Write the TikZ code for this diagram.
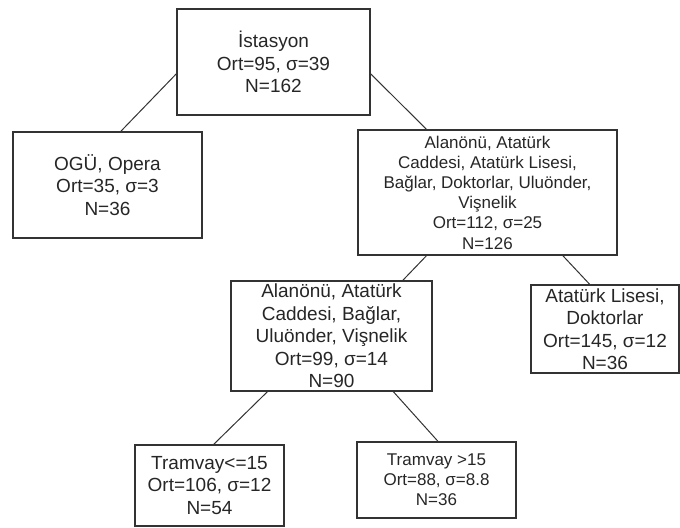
\documentclass[tikz,border=0pt]{standalone}
\usepackage{fontspec}
\setmainfont{Liberation Sans}
\begin{document}
\begin{tikzpicture}[x=0.5pt,y=-0.5pt,
	box/.style={draw=black!80,line width=0.8pt,align=center,inner sep=0pt,text=black!85,font=\fontsize{9.5}{11.25}\selectfont},
	small/.style={font=\fontsize{8.5}{10.1}\selectfont},
	edge/.style={draw=black!80,line width=0.5pt}]
	\useasboundingbox (0,0) rectangle (680,527);
	\node[box,minimum width=96.5pt,minimum height=53pt] (istasyon) at (273.5,62) {İstasyon\\Ort=95, σ=39\\N=162};
	\node[box,minimum width=94.5pt,minimum height=53pt] (ogu) at (107.5,185) {OGÜ, Opera\\Ort=35, σ=3\\N=36};
	\node[box,small,minimum width=129.5pt,minimum height=62.5pt] (sag) at (487.5,192.5) {Alanönü, Atatürk\\Caddesi, Atatürk Lisesi,\\Bağlar, Doktorlar, Uluönder,\\Vişnelik\\Ort=112, σ=25\\N=126};
	\node[box,minimum width=100.5pt,minimum height=55pt] (orta) at (331.5,336) {Alanönü, Atatürk\\Caddesi, Bağlar,\\Uluönder, Vişnelik\\Ort=99, σ=14\\N=90};
	\node[box,minimum width=74pt,minimum height=44pt] (lise) at (605,329) {Atatürk Lisesi,\\Doktorlar\\Ort=145, σ=12\\N=36};
	\node[box,minimum width=74.5pt,minimum height=40.5pt] (tram1) at (209.5,485.5) {Tramvay<=15\\Ort=106, σ=12\\N=54};
	\node[box,small,minimum width=79.5pt,minimum height=38pt] (tram2) at (436.5,480) {Tramvay >15\\Ort=88, σ=8.8\\N=36};
	\draw[edge] (istasyon.187) -- (ogu.76);
	\draw[edge] (istasyon.353) -- (sag.134);
	\draw[edge] (sag.226) -- (orta.38);
	\draw[edge] (sag.320) -- (lise.109);
	\draw[edge] (orta.221) -- (tram1.84);
	\draw[edge] (orta.318) -- (tram2.88);
\end{tikzpicture}
\end{document}
